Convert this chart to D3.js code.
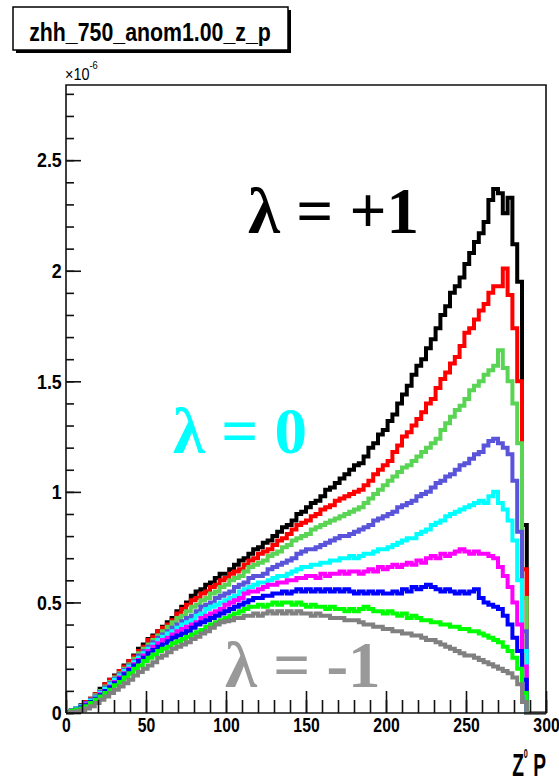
<!DOCTYPE html>
<html><head><meta charset="utf-8">
<script src="https://cdn.jsdelivr.net/npm/d3@7"></script>
<style>body{margin:0;background:#fff} svg{display:block}</style>
</head><body><svg id="c" width="559" height="783"></svg>
<script>
// ---- data ----
const binWidth = 3;                 // Z0 P bin width
const nBins = 100;                  // 0 .. 300
const xMajorTicks = [0, 50, 100, 150, 200, 250, 300];
const yMajorTicks = [0, 0.5, 1, 1.5, 2, 2.5];
const titleText = "zhh_750_anom1.00_z_p";
const seriesColors = ["#000000", "#ff0000", "#59d454", "#5954d9", "#00ffff", "#ff00ff", "#0000ff", "#00ff00", "#808080"];

const hBlack = [0.005,0.01,0.02,0.035,0.05,0.065,0.085,0.11,0.13,0.15,
0.17,0.19,0.215,0.235,0.26,0.29,0.31,0.335,0.35,0.37,
0.39,0.41,0.43,0.46,0.48,0.50,0.53,0.55,0.56,0.58,
0.59,0.61,0.63,0.63,0.65,0.67,0.69,0.70,0.72,0.74,
0.75,0.77,0.78,0.80,0.82,0.84,0.85,0.87,0.90,0.91,
0.93,0.95,0.96,0.98,1.01,1.02,1.04,1.06,1.08,1.10,
1.12,1.13,1.16,1.20,1.22,1.26,1.28,1.32,1.35,1.40,
1.44,1.48,1.53,1.57,1.60,1.65,1.69,1.74,1.80,1.84,
1.90,1.93,1.97,2.03,2.08,2.13,2.17,2.22,2.32,2.37,
2.35,2.26,2.33,2.12,1.95,0.85,0,0,0,0];
const hRed = [0.005,0.01,0.02,0.03,0.05,0.065,0.085,0.10,0.13,0.15,
0.165,0.19,0.21,0.235,0.255,0.28,0.30,0.33,0.345,0.37,
0.385,0.40,0.42,0.45,0.47,0.49,0.51,0.52,0.54,0.55,
0.57,0.58,0.60,0.61,0.63,0.64,0.65,0.67,0.69,0.70,
0.72,0.73,0.74,0.76,0.78,0.79,0.81,0.83,0.85,0.86,
0.87,0.89,0.90,0.92,0.93,0.94,0.96,0.97,0.98,0.99,
1.00,1.01,1.03,1.05,1.08,1.10,1.12,1.14,1.18,1.21,
1.25,1.27,1.30,1.33,1.36,1.40,1.42,1.47,1.51,1.54,
1.58,1.61,1.66,1.72,1.74,1.78,1.82,1.85,1.90,1.93,
1.93,2.01,1.89,1.74,1.50,0.65,0,0,0,0];
const hLightGreen = [0.005,0.01,0.02,0.03,0.045,0.06,0.08,0.10,0.12,0.14,
0.16,0.18,0.20,0.22,0.245,0.27,0.29,0.31,0.33,0.35,
0.37,0.39,0.41,0.43,0.44,0.46,0.48,0.49,0.51,0.52,
0.54,0.55,0.57,0.58,0.60,0.61,0.62,0.64,0.66,0.67,
0.68,0.69,0.71,0.72,0.73,0.75,0.76,0.78,0.79,0.80,
0.81,0.83,0.84,0.85,0.86,0.87,0.88,0.89,0.90,0.91,
0.92,0.93,0.95,0.97,0.99,1.01,1.03,1.05,1.07,1.09,
1.11,1.12,1.14,1.16,1.18,1.20,1.22,1.24,1.28,1.31,
1.34,1.37,1.39,1.42,1.46,1.48,1.50,1.53,1.55,1.57,
1.64,1.56,1.50,1.40,1.22,0.52,0,0,0,0];
const hSlate = [0.005,0.01,0.02,0.03,0.045,0.06,0.075,0.095,0.115,0.135,
0.155,0.175,0.195,0.215,0.235,0.26,0.28,0.30,0.32,0.34,
0.355,0.37,0.385,0.40,0.415,0.43,0.44,0.46,0.48,0.49,
0.50,0.52,0.53,0.54,0.55,0.57,0.58,0.59,0.61,0.62,
0.62,0.63,0.65,0.66,0.67,0.68,0.69,0.70,0.72,0.73,
0.74,0.74,0.75,0.76,0.77,0.78,0.79,0.80,0.80,0.81,
0.82,0.83,0.84,0.85,0.87,0.88,0.89,0.90,0.91,0.93,
0.94,0.95,0.96,0.98,0.99,1.00,1.02,1.04,1.05,1.07,
1.08,1.10,1.12,1.13,1.15,1.17,1.18,1.21,1.23,1.24,
1.22,1.20,1.17,1.05,0.82,0.37,0,0,0,0];
const hCyan = [0.005,0.01,0.02,0.03,0.04,0.055,0.07,0.09,0.11,0.13,
0.15,0.17,0.19,0.21,0.23,0.25,0.27,0.29,0.31,0.33,
0.345,0.36,0.37,0.385,0.40,0.41,0.42,0.44,0.45,0.47,
0.48,0.49,0.50,0.51,0.52,0.53,0.55,0.56,0.57,0.58,
0.59,0.59,0.60,0.61,0.62,0.62,0.63,0.64,0.65,0.66,
0.66,0.67,0.67,0.68,0.68,0.69,0.69,0.70,0.70,0.71,
0.70,0.71,0.72,0.72,0.73,0.74,0.74,0.75,0.76,0.77,
0.78,0.79,0.79,0.81,0.82,0.83,0.85,0.86,0.87,0.89,
0.90,0.91,0.92,0.93,0.94,0.95,0.96,0.95,0.98,1.00,
0.95,0.92,0.87,0.78,0.60,0.28,0,0,0,0];
const hMagenta = [0.005,0.01,0.015,0.025,0.04,0.05,0.065,0.085,0.10,0.12,
0.14,0.16,0.18,0.20,0.22,0.24,0.26,0.28,0.30,0.315,
0.33,0.34,0.355,0.37,0.38,0.39,0.40,0.41,0.43,0.44,
0.45,0.46,0.47,0.49,0.50,0.51,0.52,0.54,0.55,0.55,
0.56,0.57,0.58,0.58,0.59,0.59,0.60,0.60,0.61,0.61,
0.62,0.62,0.61,0.63,0.62,0.63,0.63,0.64,0.63,0.64,
0.64,0.63,0.64,0.65,0.64,0.66,0.65,0.66,0.67,0.66,
0.67,0.68,0.67,0.69,0.68,0.70,0.71,0.70,0.72,0.71,
0.72,0.73,0.74,0.73,0.72,0.73,0.72,0.72,0.71,0.70,
0.66,0.62,0.57,0.50,0.40,0.21,0,0,0,0];
const hBlue = [0.005,0.01,0.015,0.025,0.035,0.05,0.065,0.08,0.10,0.115,
0.135,0.155,0.175,0.195,0.215,0.235,0.25,0.27,0.285,0.30,
0.31,0.325,0.34,0.35,0.36,0.37,0.385,0.40,0.41,0.42,
0.43,0.44,0.45,0.46,0.47,0.48,0.49,0.50,0.51,0.52,
0.52,0.53,0.53,0.54,0.54,0.55,0.54,0.55,0.56,0.55,
0.56,0.55,0.56,0.55,0.56,0.55,0.56,0.55,0.56,0.55,
0.54,0.55,0.54,0.55,0.54,0.55,0.54,0.54,0.55,0.54,
0.56,0.55,0.57,0.56,0.57,0.58,0.57,0.56,0.55,0.56,
0.55,0.54,0.55,0.54,0.55,0.56,0.52,0.50,0.49,0.48,
0.47,0.44,0.40,0.34,0.28,0.15,0,0,0,0];
const hGreen = [0.005,0.01,0.015,0.02,0.03,0.045,0.06,0.075,0.09,0.105,
0.125,0.14,0.16,0.18,0.20,0.215,0.235,0.25,0.265,0.28,
0.29,0.30,0.315,0.325,0.335,0.345,0.355,0.365,0.375,0.39,
0.40,0.41,0.42,0.43,0.44,0.45,0.46,0.47,0.48,0.48,
0.49,0.48,0.49,0.50,0.49,0.50,0.50,0.49,0.50,0.49,
0.48,0.49,0.48,0.48,0.47,0.48,0.47,0.47,0.46,0.47,
0.46,0.47,0.48,0.47,0.46,0.46,0.45,0.46,0.45,0.44,
0.45,0.43,0.44,0.43,0.42,0.42,0.41,0.41,0.40,0.40,
0.39,0.39,0.38,0.38,0.37,0.37,0.36,0.35,0.34,0.33,
0.32,0.30,0.28,0.25,0.20,0.09,0,0,0,0];
const hGray = [0.003,0.005,0.008,0.012,0.02,0.03,0.045,0.06,0.075,0.09,
0.105,0.12,0.135,0.15,0.17,0.185,0.20,0.215,0.23,0.25,
0.26,0.275,0.29,0.30,0.31,0.32,0.335,0.345,0.36,0.37,
0.385,0.40,0.41,0.415,0.42,0.43,0.43,0.44,0.44,0.45,
0.44,0.45,0.46,0.45,0.46,0.45,0.46,0.45,0.46,0.45,
0.45,0.44,0.45,0.44,0.44,0.43,0.43,0.43,0.42,0.42,
0.42,0.41,0.40,0.40,0.39,0.39,0.38,0.38,0.37,0.37,
0.36,0.36,0.35,0.35,0.34,0.33,0.33,0.32,0.31,0.30,
0.29,0.28,0.27,0.26,0.26,0.25,0.24,0.23,0.22,0.21,
0.20,0.19,0.18,0.16,0.13,0.05,0,0,0,0];
const seriesList = [hBlack, hRed, hLightGreen, hSlate, hCyan, hMagenta, hBlue, hGreen, hGray];

const labels = [
  {text: "λ = +1", color: "#000000", ux: 248, uy: 233},
  {text: "λ = 0",  color: "#00ffff", ux: 173, uy: 453},
  {text: "λ = -1", color: "#999999", ux: 225, uy: 687}
];

// ---- drawing ----
const svg = d3.select("#c");
const L = 66, R = 546, T = 85, B = 713;
const x = d3.scaleLinear().domain([0, 300]).range([L, R]);
const y = d3.scaleLinear().domain([0, 2.84]).range([B, T]);
const sansFont = "'Liberation Sans', Arial, Helvetica, sans-serif";

// title box with shadow
svg.append("rect").attr("x", 16).attr("y", 10).attr("width", 275).attr("height", 43).attr("fill", "#000");
svg.append("rect").attr("x", 13).attr("y", 7).attr("width", 275).attr("height", 43)
  .attr("fill", "#fff").attr("stroke", "#000").attr("stroke-width", 1.5);
svg.append("text").attr("transform", "translate(150,41) scale(0.82,1)")
  .attr("text-anchor", "middle").attr("font-family", sansFont).attr("font-weight", "bold")
  .attr("font-size", 26).text(titleText);

// histograms
const line = d3.line().x(d => x(d[0])).y(d => y(d[1])).curve(d3.curveStepAfter);
const gH = svg.append("g");
seriesList.forEach((vals, k) => {
  const pts = vals.map((v, i) => [i * binWidth, v]);
  pts.push([nBins * binWidth, vals[vals.length - 1]]);
  gH.append("path").attr("d", line(pts)).attr("fill", "none")
    .attr("stroke", seriesColors[k]).attr("stroke-width", 4)
    .attr("stroke-linejoin", "miter");
});

// axes
const xMinor = d3.axisBottom(x).tickValues(d3.range(0, 301, 10)).tickSize(-13).tickFormat("");
const xMajor = d3.axisBottom(x).tickValues(xMajorTicks).tickSize(-22).tickPadding(4).tickFormat(d3.format("d"));
const yMinor = d3.axisLeft(y).tickValues(d3.range(0, 29).map(i => i / 10)).tickSize(-8).tickFormat("");
const yMajor = d3.axisLeft(y).tickValues(yMajorTicks).tickSize(-15).tickPadding(5).tickFormat(d => String(d));

function styleAxis(g) {
  g.select(".domain").remove();
  g.selectAll("line").attr("stroke", "#111").attr("stroke-width", 1.6);
  g.selectAll("text").attr("font-family", sansFont).attr("font-weight", "bold")
    .attr("font-size", 21).attr("fill", "#000");
}
svg.append("g").attr("transform", `translate(0,${B})`).call(xMinor).call(styleAxis);
const gxM = svg.append("g").attr("transform", `translate(0,${B})`).call(xMajor).call(styleAxis);
gxM.selectAll("text").attr("transform", "scale(0.75,1)");
svg.append("g").attr("transform", `translate(${L},0)`).call(yMinor).call(styleAxis);
const gyM = svg.append("g").attr("transform", `translate(${L},0)`).call(yMajor).call(styleAxis);
gyM.selectAll("text").attr("transform", "scale(0.85,1)");

// frame
svg.append("path").attr("d", `M${L},${B}V${T}H${R}V${B}H${L}`)
  .attr("fill", "none").attr("stroke", "#111").attr("stroke-width", 1.6);

// exponent label
const ex = svg.append("text").attr("transform", "translate(65,80) scale(0.85,1)")
  .attr("font-family", sansFont).attr("font-size", 17).attr("fill", "#000");
ex.append("tspan").text("×10");
ex.append("tspan").attr("dy", -11).attr("font-size", 11).text("-6");

// x axis title
const xt = svg.append("text").attr("transform", "translate(546,776) scale(0.6,1)")
  .attr("text-anchor", "end").attr("font-family", sansFont).attr("font-weight", "bold")
  .attr("font-size", 32).attr("fill", "#000");
xt.append("tspan").text("Z");
xt.append("tspan").attr("dy", -18).attr("font-size", 12).text("0");
xt.append("tspan").attr("dy", 18).text(" P");

// lambda labels
labels.forEach(l => {
  svg.append("text").attr("x", l.ux).attr("y", l.uy)
    .attr("font-family", "'Liberation Serif', 'Times New Roman', serif").attr("font-weight", "bold")
    .attr("font-size", 65).attr("fill", l.color).text(l.text);
});
</script>
</body></html>
